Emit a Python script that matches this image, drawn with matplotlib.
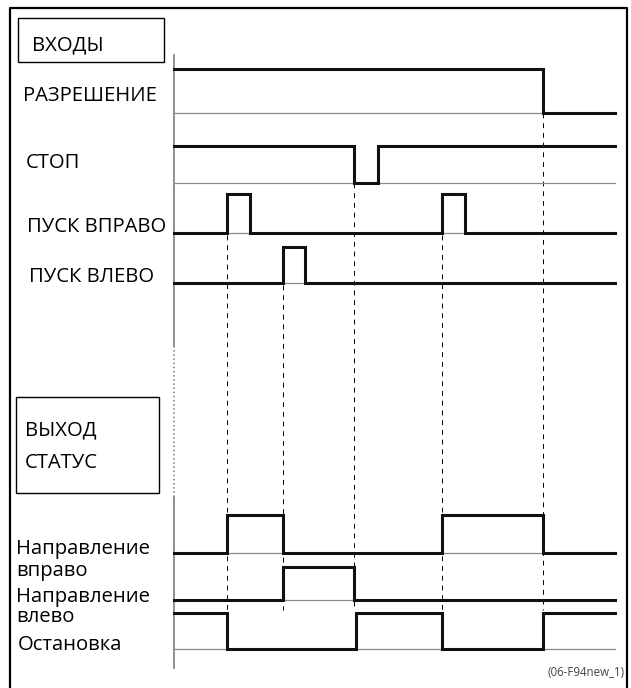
import matplotlib.pyplot as plt
from matplotlib.patches import Rectangle

plt.rcParams['font.family'] = ['Open Sans', 'DejaVu Sans']

# время переключений (условные единицы) и уровни сигналов
T_END = 441
en_t, en_v = [0, 369], [1, 0]
stop_t, stop_v = [0, 180, 204], [1, 0, 1]
sr_t, sr_v = [0, 53, 76, 268, 291], [0, 1, 0, 1, 0]
sl_t, sl_v = [0, 109, 131], [0, 1, 0]
dr_t, dr_v = [0, 53, 109, 268, 369], [0, 1, 0, 1, 0]
dl_t, dl_v = [0, 109, 180], [0, 1, 0]
halt_t, halt_v = [0, 53, 182, 268, 369], [1, 0, 1, 0, 1]
events = [53, 109, 180, 268, 369]
event_top = [235, 285, 183, 235, 113]

# строки: (низ, верх) в пикселях
rows = [(113, 69), (183, 146), (233, 194), (283, 247), (553, 515), (600, 567), (649, 613)]
signals = [(en_t, en_v), (stop_t, stop_v), (sr_t, sr_v), (sl_t, sl_v),
           (dr_t, dr_v), (dl_t, dl_v), (halt_t, halt_v)]

W, H = 631, 688
fig = plt.figure(figsize=(W / 100, H / 100), dpi=100)
bg = fig.add_axes([0, 0, 1, 1])
bg.set_xlim(0, W)
bg.set_ylim(H, 0)
bg.axis('off')

# рамка
bg.plot([10, 10, 627, 627], [H + 5, 8, 8, H + 5], color='black', lw=1.6)
bg.add_patch(Rectangle((18, 18), 146, 44, fill=False, ec='black', lw=1))
bg.add_patch(Rectangle((16, 397), 143, 96, fill=False, ec='black', lw=1))

fs = 14.6
bg.text(32, 45, 'ВХОДЫ', fontsize=fs, va='center')
bg.text(23, 96, 'РАЗРЕШЕНИЕ', fontsize=fs, va='center')
bg.text(26, 163, 'СТОП', fontsize=fs, va='center')
bg.text(27, 227, 'ПУСК ВПРАВО', fontsize=fs, va='center')
bg.text(29, 277, 'ПУСК ВЛЕВО', fontsize=fs, va='center')
bg.text(25, 430, 'ВЫХОД', fontsize=fs, va='center')
bg.text(25, 463, 'СТАТУС', fontsize=fs, va='center')
bg.text(16, 549, 'Направление', fontsize=fs, va='center')
bg.text(16, 571, 'вправо', fontsize=fs, va='center')
bg.text(16, 597, 'Направление', fontsize=fs, va='center')
bg.text(16, 617, 'влево', fontsize=fs, va='center')
bg.text(18, 645, 'Остановка', fontsize=fs, va='center')
bg.text(624, 673, '(06-F94new_1)', fontsize=8.3, color='#444444', ha='right', va='center')

x0, x1 = 174, 615
y0, y1 = 55, 668
ax = fig.add_axes([x0 / W, 1 - y1 / H, (x1 - x0) / W, (y1 - y0) / H])
ax.set_xlim(0, T_END)
ax.set_ylim(y1, y0)
ax.axis('off')
ax.patch.set_alpha(0)

# ось времени слева
ax.plot([0, 0], [y0, 346], color='#888888', lw=1.3, clip_on=False)
ax.plot([0, 0], [346, 497], color='#888888', lw=1.3, ls=(0, (0.8, 1.5)), clip_on=False)
ax.plot([0, 0], [497, y1], color='#888888', lw=1.3, clip_on=False)

for t, top in zip(events, event_top):
    ax.plot([t, t], [top, 610], color='black', lw=0.7, ls=(0, (5, 5)), clip_on=False)

for (low, high), (ts, vs) in zip(rows, signals):
    ax.plot([0, T_END], [low, low], color='#8a8a8a', lw=0.9, clip_on=False)
    xs = list(ts) + [T_END]
    ys = [low if v == 0 else high for v in vs]
    ys = ys + [ys[-1]]
    ax.plot(xs, ys, drawstyle='steps-post', color='#111111', lw=2.2,
            solid_joinstyle='miter', clip_on=False)

fig.savefig('out.png', dpi=100)
